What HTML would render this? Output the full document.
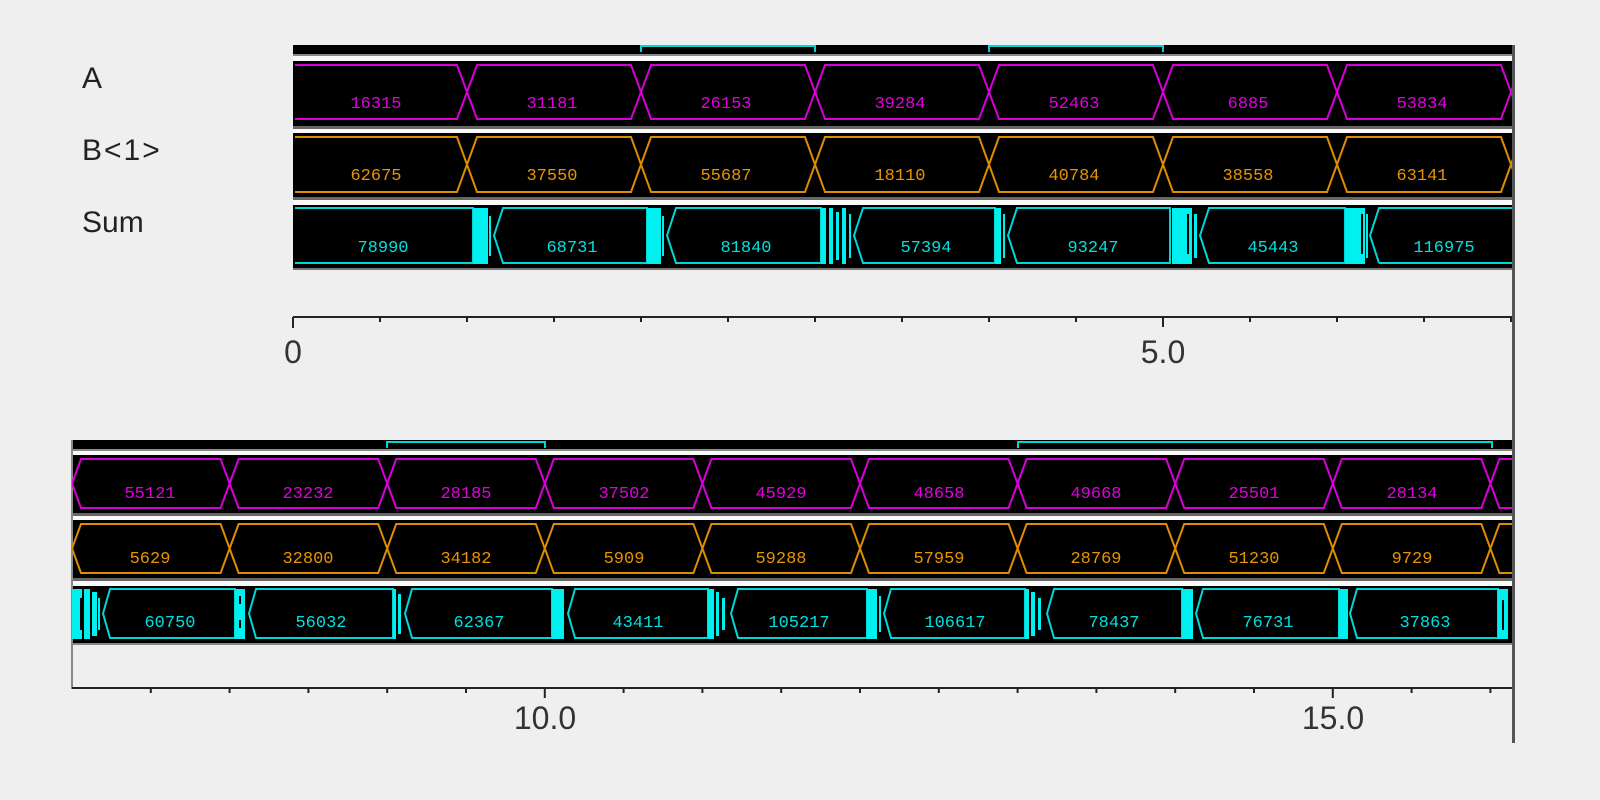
<!DOCTYPE html>
<html><head><meta charset="utf-8"><style>
html,body{margin:0;padding:0;background:#efefef;}
svg{display:block}
.lbl{font-family:"Liberation Sans",sans-serif;font-size:30px;fill:#222}
.ax{font-family:"Liberation Sans",sans-serif;font-size:32px;fill:#333;text-anchor:middle}
.v{font-family:"Liberation Mono",monospace;font-size:17px;text-anchor:middle}
.m{fill:#e000e0}.o{fill:#e89400}.c{fill:#00e0e0}
.pm{fill:none;stroke:#d800d8;stroke-width:2}
.po{fill:none;stroke:#e08c00;stroke-width:2}
.pc{fill:none;stroke:#00d8d8;stroke-width:2}
</style></head><body>
<svg width="1600" height="800" viewBox="0 0 1600 800" xmlns="http://www.w3.org/2000/svg">
<defs>
<clipPath id="ct"><rect x="293" y="40" width="1219" height="240"/></clipPath>
<clipPath id="cb"><rect x="72" y="435" width="1440" height="215"/></clipPath>
</defs>
<rect width="1600" height="800" fill="#efefef"/>
<!-- labels -->
<text class="lbl" x="82" y="88">A</text>
<text class="lbl" x="82" y="160" letter-spacing="2">B&lt;1&gt;</text>
<text class="lbl" x="82" y="232">Sum</text>

<!-- TOP PANEL -->
<rect x="293" y="45" width="1219" height="223" fill="#fafafa"/>
<rect x="293" y="45" width="1219" height="9" fill="#000"/>
<rect x="293" y="54" width="1219" height="2" fill="#888"/>
<rect x="293" y="61" width="1219" height="65" fill="#000"/>
<rect x="293" y="126" width="1219" height="3" fill="#666"/>
<rect x="293" y="133" width="1219" height="64" fill="#000"/>
<rect x="293" y="197" width="1219" height="3" fill="#666"/>
<rect x="293" y="205" width="1219" height="63" fill="#000"/>
<rect x="293" y="268" width="1219" height="2" fill="#777"/>
<g clip-path="url(#ct)">
<path d="M641,52 V46 H815 V52 M989,52 V46 H1163 V52" class="pc"/>
<!-- A -->
<path class="pm" d="M295,65 H457 L467,92 L457,119 H295"/>
<path class="pm" d="M467,92 L477,65 H631 L641,92 L631,119 H477 Z"/>
<path class="pm" d="M641,92 L651,65 H805 L815,92 L805,119 H651 Z"/>
<path class="pm" d="M815,92 L825,65 H979 L989,92 L979,119 H825 Z"/>
<path class="pm" d="M989,92 L999,65 H1153 L1163,92 L1153,119 H999 Z"/>
<path class="pm" d="M1163,92 L1173,65 H1327 L1337,92 L1327,119 H1173 Z"/>
<path class="pm" d="M1337,92 L1347,65 H1501 L1511,92 L1501,119 H1347 Z"/>
<path class="pm" d="M1511,92 L1521,65 M1511,92 L1521,119"/>
<g class="v m">
<text x="376" y="108">16315</text><text x="552" y="108">31181</text><text x="726" y="108">26153</text><text x="900" y="108">39284</text><text x="1074" y="108">52463</text><text x="1248" y="108">6885</text><text x="1422" y="108">53834</text>
</g>
<!-- B -->
<path class="po" d="M295,137 H457 L467,164.5 L457,192 H295"/>
<path class="po" d="M467,164.5 L477,137 H631 L641,164.5 L631,192 H477 Z"/>
<path class="po" d="M641,164.5 L651,137 H805 L815,164.5 L805,192 H651 Z"/>
<path class="po" d="M815,164.5 L825,137 H979 L989,164.5 L979,192 H825 Z"/>
<path class="po" d="M989,164.5 L999,137 H1153 L1163,164.5 L1153,192 H999 Z"/>
<path class="po" d="M1163,164.5 L1173,137 H1327 L1337,164.5 L1327,192 H1173 Z"/>
<path class="po" d="M1337,164.5 L1347,137 H1501 L1511,164.5 L1501,192 H1347 Z"/>
<path class="po" d="M1511,164.5 L1521,137 M1511,164.5 L1521,192"/>
<g class="v o">
<text x="376" y="180">62675</text><text x="552" y="180">37550</text><text x="726" y="180">55687</text><text x="900" y="180">18110</text><text x="1074" y="180">40784</text><text x="1248" y="180">38558</text><text x="1422" y="180">63141</text>
</g>
<!-- Sum -->
<path class="pc" d="M295,208 H473 V263 H295"/>
<path class="pc" d="M494,235.5 L503,208 H647 V263 H503 Z"/>
<path class="pc" d="M667,235.5 L676,208 H821 V263 H676 Z"/>
<path class="pc" d="M854,235.5 L863,208 H995 V263 H863 Z"/>
<path class="pc" d="M1008,235.5 L1017,208 H1170 V263 H1017 Z"/>
<path class="pc" d="M1200,235.5 L1209,208 H1345 V263 H1209 Z"/>
<path class="pc" d="M1370,235.5 L1379,208 H1512 M1379,263 H1512 M1370,235.5 L1379,263"/>
<g fill="#00f0f0">
<rect x="473" y="208" width="15" height="56"/><rect x="489" y="216" width="2" height="40"/>
<rect x="647" y="208" width="14" height="56"/><rect x="662" y="216" width="2" height="40"/>
<rect x="821" y="208" width="5" height="56"/><rect x="829" y="208" width="4" height="56"/><rect x="836" y="212" width="3" height="48"/><rect x="842" y="208" width="4" height="56"/><rect x="849" y="214" width="2" height="44"/>
<rect x="995" y="208" width="6" height="56"/><rect x="1003" y="214" width="2" height="44"/>
<rect x="1172" y="208" width="20" height="56"/><rect x="1194" y="214" width="3" height="44"/>
<rect x="1345" y="208" width="20" height="56"/><rect x="1366" y="214" width="2" height="44"/>
</g>
<g fill="#000"><rect x="1187" y="214" width="2" height="40"/><rect x="1361" y="214" width="2" height="40"/></g>
<g class="v c">
<text x="383" y="252">78990</text><text x="572" y="252">68731</text><text x="746" y="252">81840</text><text x="926" y="252">57394</text><text x="1093" y="252">93247</text><text x="1273" y="252">45443</text><text x="1444" y="252">116975</text>
</g>
</g>
<!-- top axis -->
<path d="M293,317 H1512" stroke="#222" stroke-width="2"/>
<path stroke="#222" stroke-width="2" d="M293,317 v11 M380,317 v5 M467,317 v5 M554,317 v5 M641,317 v5 M728,317 v5 M815,317 v5 M902,317 v5 M989,317 v5 M1076,317 v5 M1163,317 v10 M1250,317 v5 M1337,317 v5 M1424,317 v5 M1511,317 v5"/>
<text class="ax" x="293" y="363">0</text>
<text class="ax" x="1163" y="363">5.0</text>

<!-- BOTTOM PANEL -->
<rect x="72" y="440" width="1440" height="205" fill="#fafafa"/>
<rect x="72" y="440" width="1440" height="9" fill="#000"/>
<rect x="72" y="449" width="1440" height="2" fill="#888"/>
<rect x="72" y="455" width="1440" height="58" fill="#000"/>
<rect x="72" y="513" width="1440" height="3" fill="#666"/>
<rect x="72" y="520" width="1440" height="58" fill="#000"/>
<rect x="72" y="578" width="1440" height="3" fill="#666"/>
<rect x="72" y="586" width="1440" height="57" fill="#000"/>
<rect x="72" y="643" width="1440" height="2" fill="#888"/>
<rect x="71" y="440" width="2" height="249" fill="#888"/>
<g clip-path="url(#cb)">
<path class="pc" d="M387,448 V442 H545 V448 M1018,448 V442 H1492 V448"/>
<!-- A -->
<path class="pm" d="M72,483.5 L81,459 H220.6 L229.6,483.5 L220.6,508 H81 Z"/>
<path class="pm" d="M229.6,483.5 L238.6,459 H378.2 L387.2,483.5 L378.2,508 H238.6 Z"/>
<path class="pm" d="M387.2,483.5 L396.2,459 H535.8 L544.8,483.5 L535.8,508 H396.2 Z"/>
<path class="pm" d="M544.8,483.5 L553.8,459 H693.4 L702.4,483.5 L693.4,508 H553.8 Z"/>
<path class="pm" d="M702.4,483.5 L711.4,459 H851 L860,483.5 L851,508 H711.4 Z"/>
<path class="pm" d="M860,483.5 L869,459 H1008.6 L1017.6,483.5 L1008.6,508 H869 Z"/>
<path class="pm" d="M1017.6,483.5 L1026.6,459 H1166.2 L1175.2,483.5 L1166.2,508 H1026.6 Z"/>
<path class="pm" d="M1175.2,483.5 L1184.2,459 H1323.8 L1332.8,483.5 L1323.8,508 H1184.2 Z"/>
<path class="pm" d="M1332.8,483.5 L1341.8,459 H1481.4 L1490.4,483.5 L1481.4,508 H1341.8 Z"/>
<path class="pm" d="M1490.4,483.5 L1499.4,459 H1520 M1490.4,483.5 L1499.4,508 H1520"/>
<g class="v m">
<text x="150" y="498">55121</text><text x="308" y="498">23232</text><text x="466" y="498">28185</text><text x="624" y="498">37502</text><text x="781" y="498">45929</text><text x="939" y="498">48658</text><text x="1096" y="498">49668</text><text x="1254" y="498">25501</text><text x="1412" y="498">28134</text>
</g>
<!-- B -->
<path class="po" d="M72,548.5 L81,524 H220.6 L229.6,548.5 L220.6,573 H81 Z"/>
<path class="po" d="M229.6,548.5 L238.6,524 H378.2 L387.2,548.5 L378.2,573 H238.6 Z"/>
<path class="po" d="M387.2,548.5 L396.2,524 H535.8 L544.8,548.5 L535.8,573 H396.2 Z"/>
<path class="po" d="M544.8,548.5 L553.8,524 H693.4 L702.4,548.5 L693.4,573 H553.8 Z"/>
<path class="po" d="M702.4,548.5 L711.4,524 H851 L860,548.5 L851,573 H711.4 Z"/>
<path class="po" d="M860,548.5 L869,524 H1008.6 L1017.6,548.5 L1008.6,573 H869 Z"/>
<path class="po" d="M1017.6,548.5 L1026.6,524 H1166.2 L1175.2,548.5 L1166.2,573 H1026.6 Z"/>
<path class="po" d="M1175.2,548.5 L1184.2,524 H1323.8 L1332.8,548.5 L1323.8,573 H1184.2 Z"/>
<path class="po" d="M1332.8,548.5 L1341.8,524 H1481.4 L1490.4,548.5 L1481.4,573 H1341.8 Z"/>
<path class="po" d="M1490.4,548.5 L1499.4,524 H1520 M1490.4,548.5 L1499.4,573 H1520"/>
<g class="v o">
<text x="150" y="563">5629</text><text x="308" y="563">32800</text><text x="466" y="563">34182</text><text x="624" y="563">5909</text><text x="781" y="563">59288</text><text x="939" y="563">57959</text><text x="1096" y="563">28769</text><text x="1254" y="563">51230</text><text x="1412" y="563">9729</text>
</g>
<!-- Sum -->
<path class="pc" d="M103,613.5 L110,589 H235 V638 H110 Z"/>
<path class="pc" d="M249,613.5 L256,589 H393 V638 H256 Z"/>
<path class="pc" d="M405,613.5 L412,589 H552 V638 H412 Z"/>
<path class="pc" d="M568,613.5 L575,589 H708 V638 H575 Z"/>
<path class="pc" d="M731,613.5 L738,589 H867 V638 H738 Z"/>
<path class="pc" d="M884,613.5 L891,589 H1025 V638 H891 Z"/>
<path class="pc" d="M1047,613.5 L1054,589 H1182 V638 H1054 Z"/>
<path class="pc" d="M1196,613.5 L1203,589 H1339 V638 H1203 Z"/>
<path class="pc" d="M1350,613.5 L1357,589 H1498 V638 H1357 Z"/>
<g fill="#00f0f0">
<rect x="72" y="589" width="10" height="50"/><rect x="84" y="589" width="6" height="50"/><rect x="92" y="592" width="5" height="44"/><rect x="98" y="598" width="2" height="32"/>
<rect x="235" y="589" width="10" height="50"/>
<rect x="393" y="589" width="3" height="50"/><rect x="398" y="594" width="3" height="40"/>
<rect x="552" y="589" width="12" height="50"/>
<rect x="708" y="589" width="6" height="50"/><rect x="716" y="592" width="3" height="44"/><rect x="722" y="598" width="3" height="32"/>
<rect x="867" y="589" width="10" height="50"/><rect x="879" y="596" width="2" height="36"/>
<rect x="1025" y="589" width="4" height="50"/><rect x="1031" y="592" width="4" height="44"/><rect x="1038" y="598" width="3" height="32"/>
<rect x="1182" y="589" width="11" height="50"/>
<rect x="1339" y="589" width="9" height="50"/>
<rect x="1498" y="589" width="10" height="50"/>
</g>
<g fill="#000"><rect x="80" y="598" width="3" height="32"/><rect x="239" y="596" width="2" height="8"/><rect x="239" y="620" width="2" height="8"/><rect x="1502" y="600" width="2" height="30"/></g>
<g class="v c">
<text x="170" y="627">60750</text><text x="321" y="627">56032</text><text x="479" y="627">62367</text><text x="638" y="627">43411</text><text x="799" y="627">105217</text><text x="955" y="627">106617</text><text x="1114" y="627">78437</text><text x="1268" y="627">76731</text><text x="1425" y="627">37863</text>
</g>
</g>
<!-- bottom axis -->
<path d="M72,688 H1512" stroke="#222" stroke-width="2"/>
<path stroke="#222" stroke-width="2" d="M150.8,688 v5 M229.6,688 v5 M308.4,688 v5 M387.2,688 v5 M466,688 v5 M544.8,688 v10 M623.6,688 v5 M702.4,688 v5 M781.2,688 v5 M860,688 v5 M938.8,688 v5 M1017.6,688 v5 M1096.4,688 v5 M1175.2,688 v5 M1254,688 v5 M1332.8,688 v10 M1411.6,688 v5 M1490.4,688 v5"/>
<text class="ax" x="545" y="729">10.0</text>
<text class="ax" x="1333" y="729">15.0</text>
<!-- right border -->
<rect x="1512" y="45" width="3" height="698" fill="#555"/>
</svg>
</body></html>
